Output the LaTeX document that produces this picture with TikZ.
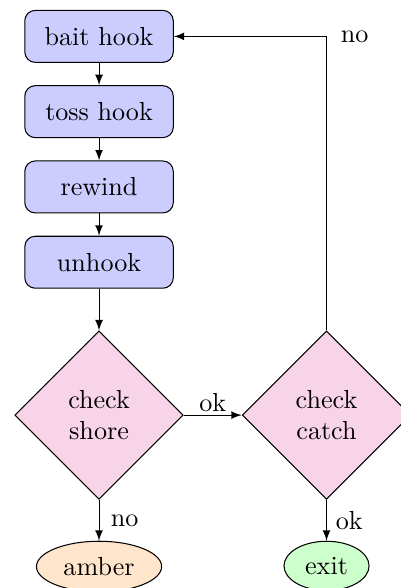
\documentclass[tikz,border=0pt]{standalone}
\usetikzlibrary{positioning,shapes.geometric}
\definecolor{checkpink}{HTML}{F8D4E8}
\begin{document}
\begin{tikzpicture}[node distance={3mm}, >=latex,
    proc/.style = {draw, rounded corners, fill=blue!20, minimum width=2cm, minimum height=7mm},
    decide/.style = {draw, diamond, aspect=1, fill=checkpink, align=center, minimum size=2.27cm, inner sep=0pt},
    term/.style = {draw, ellipse}]
  \useasboundingbox (0,0) rectangle (5.40,-7.92);
  \node[proc] (bait) at (1.334,-0.49) {bait hook};
  \node[proc] (toss) [below=of bait] {toss hook};
  \node[proc] (rewind) [below=of toss] {rewind};
  \node[proc] (unhook) [below=of rewind] {unhook};
  \node[decide] (shore) [below=5.6mm of unhook] {check\\shore};
  \node[decide] (catch) [right=7.8mm of shore] {check\\catch};
  \node[term, fill=orange!20] (amber) [below=5.5mm of shore] {amber};
  \node[term, fill=green!20] (exit) [below=5.5mm of catch] {exit};
  \draw[->] (bait) -- (toss);
  \draw[->] (toss) -- (rewind);
  \draw[->] (rewind) -- (unhook);
  \draw[->] (unhook) -- (shore);
  \draw[->] (shore) -- node[above, inner sep=1pt] {ok} (catch);
  \draw[->] (shore) -- node[right, xshift=1pt] {no} (amber);
  \draw[->] (catch) -- node[right] {ok} (exit);
  \draw[->] (catch) |- node[pos=0.5, right, xshift=2pt] {no} (bait);
\end{tikzpicture}
\end{document}
